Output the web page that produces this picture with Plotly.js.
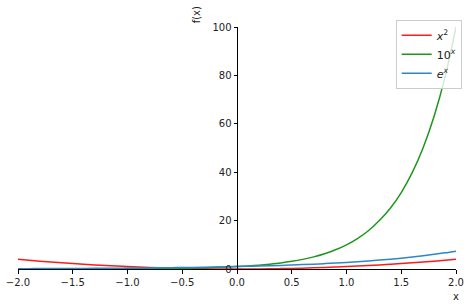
<!DOCTYPE html>
<html>
<head>
<meta charset="utf-8">
<script src="https://cdn.plot.ly/plotly-3.0.1.min.js"></script>
<style>html,body{margin:0;padding:0;background:#fff;}#chart{width:474px;height:305px;}</style>
</head>
<body>
<div id="chart"></div>
<script>
const xValues = [-2.0,-1.9,-1.8,-1.7,-1.6,-1.5,-1.4,-1.3,-1.2,-1.1,-1.0,-0.9,-0.8,-0.7,-0.6,-0.5,-0.4,-0.3,-0.2,-0.1,0.0,0.1,0.2,0.3,0.4,0.5,0.6,0.7,0.8,0.9,1.0,1.1,1.2,1.3,1.4,1.5,1.6,1.7,1.8,1.9,2.0];
const squareValues = [4,3.61,3.24,2.89,2.56,2.25,1.96,1.69,1.44,1.21,1,0.81,0.64,0.49,0.36,0.25,0.16,0.09,0.04,0.01,0,0.01,0.04,0.09,0.16,0.25,0.36,0.49,0.64,0.81,1,1.21,1.44,1.69,1.96,2.25,2.56,2.89,3.24,3.61,4];
const tenPowValues = [0.01,0.013,0.016,0.02,0.025,0.032,0.04,0.05,0.063,0.079,0.1,0.126,0.158,0.2,0.251,0.316,0.398,0.501,0.631,0.794,1,1.26,1.58,2.0,2.51,3.16,3.98,5.01,6.31,7.94,10,12.6,15.8,20.0,25.1,31.6,39.8,50.1,63.1,79.4,100];
const expValues = [0.135,0.150,0.165,0.183,0.202,0.223,0.247,0.273,0.301,0.333,0.368,0.407,0.449,0.497,0.549,0.607,0.670,0.741,0.819,0.905,1,1.105,1.221,1.350,1.492,1.649,1.822,2.014,2.226,2.460,2.718,3.004,3.320,3.669,4.055,4.482,4.953,5.474,6.050,6.686,7.389];
const seriesNames = ['<i>x</i><sup>2</sup>', '10<sup><i>x</i></sup>', '<i>e</i><sup><i>x</i></sup>'];
const xTickVals = [-2.0,-1.5,-1.0,-0.5,0.0,0.5,1.0,1.5,2.0];
const xTickText = ['\u22122.0','\u22121.5','\u22121.0','\u22120.5','0.0','0.5','1.0','1.5','2.0'];
const yTickVals = [0,20,40,60,80,100];
const yTickText = ['0','20','40','60','80','100'];

const font = {family: 'DejaVu Sans, sans-serif', size: 10, color: '#222'};
const traces = [
  {x: xValues, y: squareValues, name: seriesNames[0], mode: 'lines', line: {color: '#ff1a1a', width: 1.5, shape: 'spline', smoothing: 1}},
  {x: xValues, y: tenPowValues, name: seriesNames[1], mode: 'lines', line: {color: '#1e961e', width: 1.5, shape: 'spline', smoothing: 1}},
  {x: xValues, y: expValues, name: seriesNames[2], mode: 'lines', line: {color: '#2f86c6', width: 1.5, shape: 'spline', smoothing: 1}}
];
const layout = {
  width: 474, height: 305,
  margin: {l: 18, r: 14, t: 27, b: 36, pad: 0},
  paper_bgcolor: '#fff', plot_bgcolor: '#fff',
  font: font,
  showlegend: true,
  xaxis: {range: [-2, 2], tickvals: xTickVals, ticktext: xTickText, showline: true, linecolor: '#000', linewidth: 1,
          ticks: 'outside', ticklen: 3.5, tickcolor: '#000', tickwidth: 1, showgrid: false, zeroline: false, tickfont: font},
  yaxis: {range: [0, 100], anchor: 'free', position: 0.5, tickvals: yTickVals, ticktext: yTickText, showline: true,
          linecolor: '#000', linewidth: 1, ticks: 'outside', ticklen: 3.5, tickcolor: '#000', tickwidth: 1,
          showgrid: false, zeroline: false, tickfont: font},
  legend: {x: 1.013, xanchor: 'right', y: 1.03, yanchor: 'top', bgcolor: 'rgba(255,255,255,0.8)',
           bordercolor: '#cccccc', borderwidth: 1, tracegroupgap: 0,
           font: {family: 'DejaVu Sans, sans-serif', size: 11, color: '#222'}},
  annotations: [
    {text: 'f(x)', xref: 'paper', yref: 'paper', x: 0.4095, y: 1.0496, textangle: -90, showarrow: false, font: font, xanchor: 'center', yanchor: 'middle'},
    {text: 'x', xref: 'paper', yref: 'paper', x: 1.0, y: -0.1157, showarrow: false, font: font, xanchor: 'center', yanchor: 'middle'}
  ]
};
Plotly.newPlot('chart', traces, layout, {displayModeBar: false, staticPlot: true});
</script>
</body>
</html>
